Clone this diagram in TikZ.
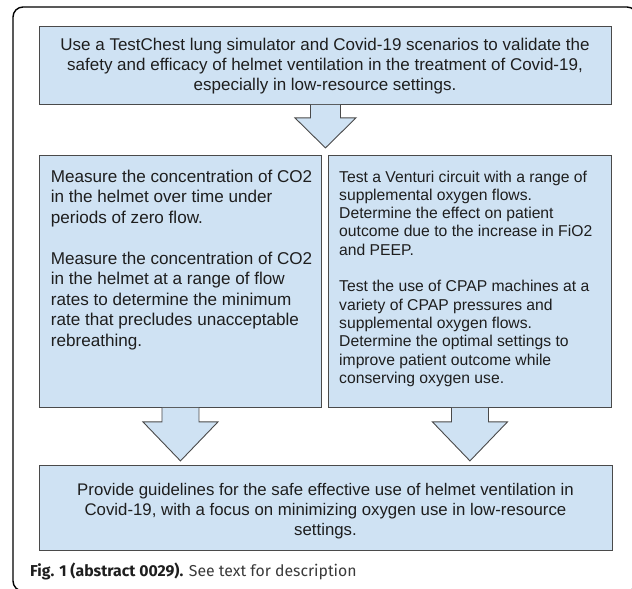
\documentclass[tikz,border=0pt]{standalone}
\usepackage{fontspec}
\setmainfont{Liberation Sans}
\newfontfamily\capfont{Fira Sans}
\usetikzlibrary{calc}
\definecolor{boxblue}{HTML}{CFE2F3}
\definecolor{boxline}{HTML}{4A4A4A}
\definecolor{ink}{HTML}{1E1E1E}
\definecolor{capgray}{HTML}{3A3A3A}
\begin{document}
\begin{tikzpicture}[x=1pt, y=-1pt,
    panel/.style = {draw=boxline, fill=boxblue, line width=0.9pt, inner sep=0pt, anchor=north west},
    body/.style = {text=ink, inner sep=0pt},
    blockarrow/.style = {draw=boxline, fill=boxblue, line width=0.9pt}]
    \useasboundingbox (0,0) rectangle (632,589);
    \draw[line width=1.4pt, rounded corners=10pt] (13,7) rectangle (637,591);
    % boxes
    \node[panel, minimum width=572pt, minimum height=78pt] (aim) at (39,26) {};
    \node[panel, minimum width=282pt, minimum height=252pt] (co2box) at (39,155) {};
    \node[panel, minimum width=283pt, minimum height=252pt] (o2box) at (328,155) {};
    \node[panel, minimum width=573pt, minimum height=85pt] (goal) at (39,465) {};
    % texts
    \node[body, anchor=north, align=center, font=\fontsize{17}{20}\selectfont] (aimtext) at (325,38.3)
        {Use a TestChest lung simulator and Covid-19 scenarios to validate the\\
         safety and efficacy of helmet ventilation in the treatment of Covid-19,\\
         especially in low-resource settings.};
    \node[body, anchor=north west, align=left, font=\fontsize{17.1}{20.5}\selectfont] (co2text) at (50.7,169.6)
        {Measure the concentration of CO2\\
         in the helmet over time under\\
         periods of zero flow.\\[20.5pt]
         Measure the concentration of CO2\\
         in the helmet at a range of flow\\
         rates to determine the minimum\\
         rate that precludes unacceptable\\
         rebreathing.};
    \node[body, anchor=north west, align=left, font=\fontsize{15.7}{18.3}\selectfont] (o2text) at (339,170.5)
        {Test a Venturi circuit with a range of\\
         supplemental oxygen flows.\\
         Determine the effect on patient\\
         outcome due to the increase in FiO2\\
         and PEEP.\\[18.3pt]
         Test the use of CPAP machines at a\\
         variety of CPAP pressures and\\
         supplemental oxygen flows.\\
         Determine the optimal settings to\\
         improve patient outcome while\\
         conserving oxygen use.};
    \node[body, anchor=north, align=center, font=\fontsize{16.8}{20}\selectfont] (goaltext) at (325.5,482.9)
        {Provide guidelines for the safe effective use of helmet ventilation in\\
         Covid-19, with a focus on minimizing oxygen use in low-resource\\
         settings.};
    \node[body, anchor=base west, font=\capfont\fontsize{15.8}{18}\selectfont] (caption) at (30,576)
        {\textbf{Fig. 1 (abstract 0029).} \textcolor{capgray}{See text for description}};
    % arrows
    \draw[blockarrow] ($(aim.south)+(-15,0)$) -- ++(0,13) -- ++(-15.5,0) -- ++(30.5,30) -- ++(30.5,-30) -- ++(-15.5,0) -- ++(0,-13);
    \foreach \b in {co2box, o2box}
        \draw[blockarrow] ($(\b.south)+(-18.5,0)$) -- ++(0,14) -- ++(-19,0) -- ++(37.5,39) -- ++(37.5,-39) -- ++(-19,0) -- ++(0,-14);
\end{tikzpicture}
\end{document}
